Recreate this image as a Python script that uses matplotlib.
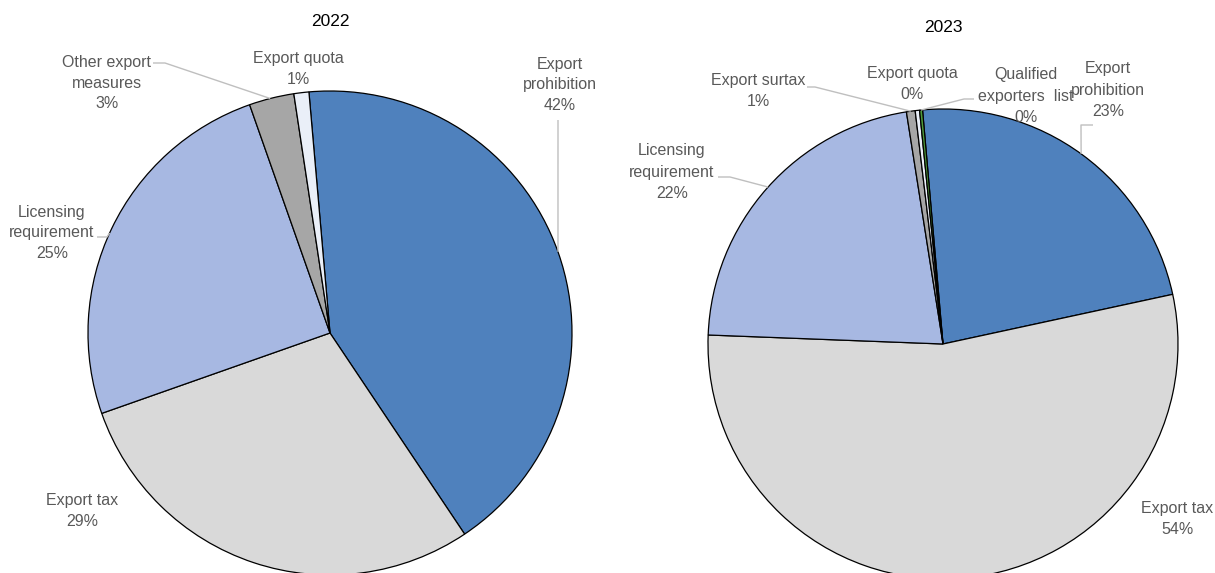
import numpy as np
import matplotlib.pyplot as plt

W, H = 1215, 573

# 2022 export restriction measures (share of measures, %)
cats_2022 = ["Export\nprohibition", "Export tax", "Licensing\nrequirement",
             "Other export\nmeasures", "Export quota"]
vals_2022 = [42, 29, 25, 3, 1]
cols_2022 = ["#4F81BD", "#D9D9D9", "#A7B8E2", "#A6A6A6", "#EAEFF8"]

# 2023
cats_2023 = ["Export\nprohibition", "Export tax", "Licensing\nrequirement",
             "Export surtax", "Export quota", "Qualified\nexporters  list"]
vals_2023 = [23, 54, 21.9, 0.6, 0.3, 0.2]
cols_2023 = ["#4F81BD", "#D9D9D9", "#A7B8E2", "#A6A6A6", "#EAEFF8", "#4E9A3A"]

TXT = "#595959"
LEAD = "#BFBFBF"
FONT = ["Liberation Sans Narrow", "Liberation Sans", "DejaVu Sans"]

fig = plt.figure(figsize=(W / 100, H / 100), dpi=100)
ax = fig.add_axes([0, 0, 1, 1])


def y(v):
    # pixel rows are counted from the top
    return H - v


def draw_pie(vals, cols, cx, cy, r):
    wedges, _ = ax.pie(vals, colors=cols, startangle=95, counterclock=False,
                       center=(cx, y(cy)), radius=r,
                       wedgeprops=dict(edgecolor="black", linewidth=0.9))
    return wedges


def edge_pt(cx, cy, r, ang):
    a = np.deg2rad(ang)
    return cx + r * np.cos(a), y(cy) + r * np.sin(a)


def label(txt, v, x, yy):
    ax.text(x, y(yy), f"{txt}\n{v:.0f}%", ha="center", va="center",
            fontsize=11.5, color=TXT, family=FONT, linespacing=1.5)


def leader(pts, end):
    xs = [p[0] for p in pts] + [end[0]]
    ys = [y(p[1]) for p in pts] + [end[1]]
    ax.plot(xs, ys, color=LEAD, lw=1.0, solid_capstyle="butt")


# left pie
c1 = (330, 333, 242)
w1 = draw_pie(vals_2022, cols_2022, *c1)
label(cats_2022[0], vals_2022[0], 560, 85)
label(cats_2022[1], vals_2022[1], 82, 511)
label(cats_2022[2], vals_2022[2], 52, 233)
label(cats_2022[3], vals_2022[3], 107, 83)
label(cats_2022[4], vals_2022[4], 298, 69)
leader([(558, 120)], edge_pt(*c1, 19.6))
leader([(153, 63), (165, 63)], edge_pt(*c1, 104.3))
leader([(97, 237), (107, 237)], edge_pt(*c1, 155.6))

# right pie
c2 = (943, 344, 235)
w2 = draw_pie(vals_2023, cols_2023, *c2)
label(cats_2023[0], vals_2023[0], 1108, 90)
label(cats_2023[1], vals_2023[1], 1177, 519)
label(cats_2023[2], vals_2023[2], 672, 172)
label(cats_2023[3], vals_2023[3], 758, 91)
label(cats_2023[4], vals_2023[4], 912, 84)
label(cats_2023[5], vals_2023[5], 1026, 96)
leader([(1093, 125), (1081, 125)], edge_pt(*c2, 54.0))
leader([(718, 177), (730, 177)], edge_pt(*c2, 138.1))
leader([(807, 87), (815, 87)],
       edge_pt(*c2, (w2[3].theta1 + w2[3].theta2) / 2))
leader([(974, 99), (964, 99)],
       edge_pt(*c2, (w2[5].theta1 + w2[5].theta2) / 2))

ax.text(330, y(22), "2022", ha="center", va="center", fontsize=12.5,
        color="black", family=["Liberation Sans", "DejaVu Sans"])
ax.text(943, y(27), "2023", ha="center", va="center", fontsize=12.5,
        color="black", family=["Liberation Sans", "DejaVu Sans"])

ax.set_xlim(0, W)
ax.set_ylim(0, H)
ax.set_aspect("equal")
ax.axis("off")

fig.savefig("out.png", dpi=100)
